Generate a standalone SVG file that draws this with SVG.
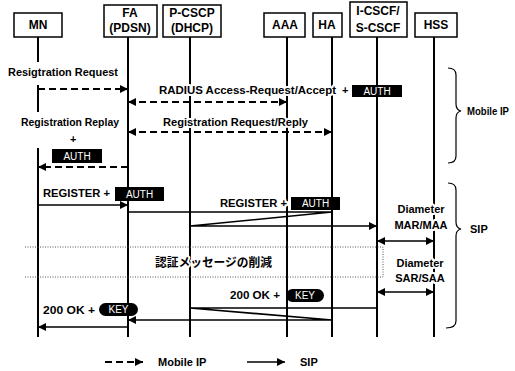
<svg xmlns="http://www.w3.org/2000/svg" width="515" height="371" viewBox="0 0 515 371">
<defs>
<style>
text{font-family:"Liberation Sans",Arial,"Noto Sans CJK JP",sans-serif;font-weight:bold;font-size:11px;fill:#000}
.hd{font-size:12px;text-anchor:middle}
.h{stroke:#fff;stroke-width:4px;paint-order:stroke;stroke-linejoin:round}
.box{fill:#fff;stroke:#000;stroke-width:1.5}
.life{stroke:#000;stroke-width:2;fill:none}
.msg{stroke:#000;stroke-width:1.6;fill:none}
.dash{stroke:#000;stroke-width:2;fill:none;stroke-dasharray:7 4}
.dot{stroke:#555;stroke-width:1;fill:none;stroke-dasharray:1 1.5}
.tag{fill:#000}
.tagt{font-family:"Liberation Sans",Arial,sans-serif;font-weight:normal;font-size:10px;fill:#fff;text-anchor:middle}
.brace{stroke:#000;stroke-width:1.2;fill:none}
.jp{font-family:"Noto Sans CJK JP",sans-serif;font-size:12px;font-weight:bold}
</style>
<marker id="ah" viewBox="0 0 10 10" refX="10" refY="5" markerWidth="9" markerHeight="8" markerUnits="userSpaceOnUse" orient="auto-start-reverse"><path d="M0,0 L10,5 L0,10 z" fill="#000"/></marker>
</defs>
<rect width="515" height="371" fill="#fff"/>

<g id="lifelines">
<path class="life" d="M38,37V62 M38,85V112 M38,148V337"/>
<path class="life" d="M128,37V337"/>
<path class="life" d="M190,37V337"/>
<path class="life" d="M287,37V337"/>
<path class="life" d="M332,37V337"/>
<path class="life" d="M377,37V337"/>
<path class="life" d="M434,37V337"/>
</g>

<g id="node-MN"><rect class="box" x="14" y="13" width="48" height="24"/><text class="hd" x="38" y="29">MN</text></g>
<g id="node-FA"><rect class="box" x="104" y="5" width="53" height="32"/><text class="hd" x="130" y="17">FA</text><text class="hd" x="130" y="32">(PDSN)</text></g>
<g id="node-PCSCP"><rect class="box" x="163" y="5" width="58" height="32"/><text class="hd" x="192" y="17">P-CSCP</text><text class="hd" x="192" y="32">(DHCP)</text></g>
<g id="node-AAA"><rect class="box" x="264" y="13" width="41" height="24"/><text class="hd" x="285" y="29">AAA</text></g>
<g id="node-HA"><rect class="box" x="313" y="13" width="29" height="24"/><text class="hd" x="327" y="29">HA</text></g>
<g id="node-ICSCF"><rect class="box" x="350" y="2" width="57" height="35"/><text class="hd" x="378" y="15">I-CSCF/</text><text class="hd" x="378" y="32">S-CSCF</text></g>
<g id="node-HSS"><rect class="box" x="415" y="13" width="42" height="24"/><text class="hd" x="436" y="29">HSS</text></g>

<g id="region">
<path class="dot" d="M25,247H383V277H25"/>
</g>

<g id="connectors">
<path class="dash" d="M38,89H128" marker-end="url(#ah)"/>
<path class="dash" d="M128,102H287" marker-start="url(#ah)" marker-end="url(#ah)"/>
<path class="dash" d="M128,132H332" marker-start="url(#ah)" marker-end="url(#ah)"/>
<path class="dash" d="M128,167H38" marker-end="url(#ah)"/>
<path class="msg" d="M38,205H128" marker-end="url(#ah)"/>
<path class="msg" d="M128,212H332L190,226H377" marker-end="url(#ah)"/>
<path class="msg" d="M377,241H434" marker-start="url(#ah)" marker-end="url(#ah)"/>
<path class="msg" d="M377,292H434" marker-start="url(#ah)" marker-end="url(#ah)"/>
<path class="msg" d="M377,308H190L332,320H128" marker-end="url(#ah)"/>
<path class="msg" d="M128,327H38" marker-end="url(#ah)"/>
</g>

<g id="labels">
<text x="8" y="76" textLength="110" lengthAdjust="spacingAndGlyphs">Resigtration Request</text>
<text class="h" x="159" y="94" textLength="177" lengthAdjust="spacingAndGlyphs">RADIUS Access-Request/Accept</text>
<text x="342" y="94">+</text>
<rect class="tag" x="352" y="85" width="50" height="12"/><text class="tagt" x="377" y="95">AUTH</text>
<text class="h" x="163" y="126" textLength="145" lengthAdjust="spacingAndGlyphs">Registration Request/Reply</text>
<text x="21" y="126" textLength="98" lengthAdjust="spacingAndGlyphs">Registration Replay</text>
<text x="70" y="143">+</text>
<rect class="tag" x="52" y="149" width="50" height="14"/><text class="tagt" x="77" y="160">AUTH</text>
<text x="43" y="197" textLength="67" lengthAdjust="spacingAndGlyphs">REGISTER +</text>
<rect class="tag" x="115" y="187" width="49" height="14"/><text class="tagt" x="139.5" y="198">AUTH</text>
<text class="h" x="220" y="207" textLength="67" lengthAdjust="spacingAndGlyphs">REGISTER +</text>
<rect class="tag" x="291" y="197" width="49" height="13"/><text class="tagt" x="315.5" y="207">AUTH</text>
<text class="h" x="421" y="213" text-anchor="middle">Diameter</text>
<text class="h" x="421" y="229" text-anchor="middle">MAR/MAA</text>
<text class="h jp" x="155" y="267" textLength="117" lengthAdjust="spacingAndGlyphs">認証メッセージの削減</text>
<text class="h" x="420" y="267" text-anchor="middle">Diameter</text>
<text class="h" x="420" y="282" text-anchor="middle">SAR/SAA</text>
<text x="230" y="299" textLength="50" lengthAdjust="spacingAndGlyphs">200 OK +</text>
<rect class="tag" x="286" y="289" width="38" height="13" rx="6.5"/><text class="tagt" x="305" y="299">KEY</text>
<text x="43" y="314" textLength="52" lengthAdjust="spacingAndGlyphs">200 OK +</text>
<rect class="tag" x="99" y="303" width="39" height="13" rx="6.5"/><text class="tagt" x="118.5" y="313">KEY</text>
</g>

<g id="group-mobileip">
<path class="brace" d="M448,68Q456,68 456,75V104Q456,110 461,111Q456,112 456,118V156Q456,163 448,163"/>
<text x="467" y="115" textLength="42" lengthAdjust="spacingAndGlyphs">Mobile IP</text>
</g>
<g id="group-sip">
<path class="brace" d="M448,183Q456,183 456,190V222Q456,228 461,229Q456,230 456,236V321Q456,328 446,328"/>
<text x="470" y="233">SIP</text>
</g>

<g id="legend">
<path class="dash" d="M105,362H143" marker-end="url(#ah)"/>
<text x="158" y="366">Mobile IP</text>
<path class="msg" d="M247,362H285" marker-end="url(#ah)"/>
<text x="300" y="366">SIP</text>
</g>
</svg>
